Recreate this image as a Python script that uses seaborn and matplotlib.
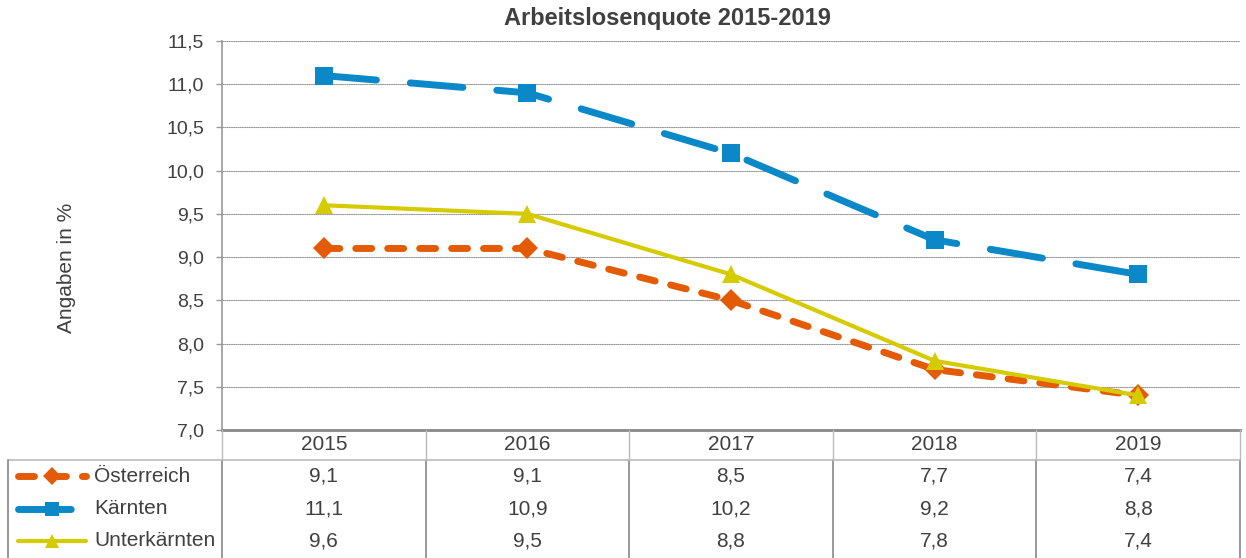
import pandas as pd
import numpy as np
import matplotlib.pyplot as plt
import seaborn as sns
from matplotlib.lines import Line2D
from matplotlib.ticker import FuncFormatter, MultipleLocator
from matplotlib.transforms import blended_transform_factory


years = ["2015", "2016", "2017", "2018", "2019"]
oesterreich = [9.1, 9.1, 8.5, 7.7, 7.4]
kaernten = [11.1, 10.9, 10.2, 9.2, 8.8]
unterkaernten = [9.6, 9.5, 8.8, 7.8, 7.4]
series_names = ["Österreich", "Kärnten", "Unterkärnten"]

df = pd.DataFrame({
    "idx": list(range(len(years))) * 3,
    "Jahr": years * 3,
    "Quote": oesterreich + kaernten + unterkaernten,
    "Region": [n for n in series_names for _ in years],
})

sns.set_style("white")
plt.rcParams['font.family'] = ['Liberation Sans', 'DejaVu Sans']
plt.rcParams['lines.dash_capstyle'] = 'round'
txt = "#404040"

styles = {
    "Österreich": dict(color="#E35B05", marker="D", ms=11, lw=5, ls=(0, (2.3, 2.3))),
    "Kärnten": dict(color="#0A88C8", marker="s", ms=13, lw=5, ls=(0, (7.6, 4.9))),
    "Unterkärnten": dict(color="#D6CB00", marker="^", ms=13, lw=3, ls="-"),
}

fig = plt.figure(figsize=(12.46, 5.58), dpi=100)
ax = fig.add_axes([222 / 1246, 1 - 430 / 558, 1018 / 1246, 389 / 558])

for name in series_names:
    st = styles[name]
    sub = df[df["Region"] == name]
    sns.lineplot(data=sub, x="idx", y="Quote", color=st["color"], marker=st["marker"],
                 markersize=st["ms"], markeredgewidth=0, linewidth=st["lw"],
                 linestyle=st["ls"], ax=ax, legend=False, zorder=3)

ax.set_xlim(-0.5, len(years) - 0.5)
ax.set_ylim(7.0, 11.5)
ax.yaxis.set_major_locator(MultipleLocator(0.5))
ax.yaxis.set_major_formatter(FuncFormatter(lambda v, p: f"{v:.1f}".replace(".", ",")))
ax.set_xticks([])
ax.set_xlabel("")
ax.set_ylabel("Angaben in %", fontsize=15, color=txt)
ax.yaxis.set_label_coords(-0.143, 0.416)
ax.tick_params(axis="y", direction="out", length=4, width=1, color="#999999",
               labelsize=14, labelcolor=txt, pad=9, left=True)
ax.grid(axis="y", color="#999999", linestyle=(0, (1, 1)), linewidth=0.8)
for s in ["top", "right"]:
    ax.spines[s].set_visible(False)
ax.spines["left"].set_color("#999999")
ax.spines["left"].set_linewidth(1.2)
ax.spines["bottom"].set_color("#888888")
ax.spines["bottom"].set_linewidth(2)

fig.text(667 / 1246, 1 - 18 / 558, "Arbeitslosenquote 2015-2019", ha="center", va="center",
         fontsize=17, fontweight="bold", color=txt)

# data table below the plot
tr = blended_transform_factory(ax.transData, fig.transFigure)
y_head = 1 - 445 / 558
row_y = [1 - 476 / 558, 1 - 509 / 558, 1 - 541 / 558]
y_sep = 1 - 460 / 558
y_top = 1 - 430 / 558
values = [oesterreich, kaernten, unterkaernten]

for i, yr in enumerate(years):
    fig.text(i, y_head, yr, transform=tr, ha="center", va="center", fontsize=15, color=txt)
    for r, vals in enumerate(values):
        fig.text(i, row_y[r], f"{vals[i]:.1f}".replace(".", ","), transform=tr,
                 ha="center", va="center", fontsize=15, color=txt)

for k in range(len(years) + 1):
    xb = k - 0.5
    fig.add_artist(Line2D([xb, xb], [y_sep, y_top], transform=tr, color="#bbbbbb", lw=1))
    fig.add_artist(Line2D([xb, xb], [0, y_sep], transform=tr, color="#888888", lw=1.2))
fig.add_artist(Line2D([8 / 1246, 1240 / 1246], [y_sep, y_sep], transform=fig.transFigure,
                      color="#bbbbbb", lw=1.2))
fig.add_artist(Line2D([8 / 1246, 8 / 1246], [0, y_sep], transform=fig.transFigure,
                      color="#888888", lw=1.2))

for r, name in enumerate(series_names):
    st = styles[name]
    fig.add_artist(Line2D([18 / 1246, 86 / 1246], [row_y[r], row_y[r]], transform=fig.transFigure,
                          color=st["color"], lw=st["lw"], linestyle=st["ls"]))
    fig.add_artist(Line2D([52 / 1246], [row_y[r]], transform=fig.transFigure, color=st["color"],
                          marker=st["marker"], markersize=st["ms"] * 0.8, markeredgewidth=0))
    fig.text(94 / 1246, row_y[r], name, ha="left", va="center", fontsize=15, color=txt)

fig.savefig("out.png", dpi=100)
